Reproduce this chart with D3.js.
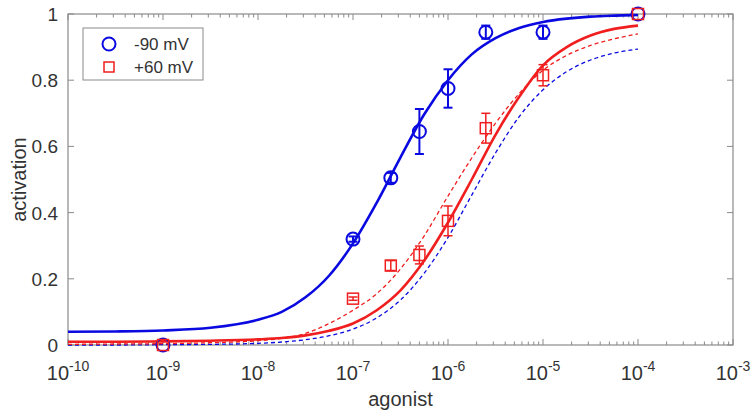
<!DOCTYPE html>
<html>
<head>
<meta charset="utf-8">
<script src="https://cdn.jsdelivr.net/npm/d3@7"></script>
<style>
	body { margin: 0; background: #fff; }
	text { font-family: "Liberation Sans", Arial, sans-serif; fill: #333; }
</style>
</head>
<body>
<div id="chart-area"><svg></svg></div>
<script>
const chartSize = { width: 753, height: 414 };
const margin = { left: 68, right: 20, top: 14, bottom: 69 };
const width = chartSize.width - margin.left - margin.right;
const height = chartSize.height - margin.top - margin.bottom;

// measured points
const doses = [1e-9, 1e-7, 2.5e-7, 5e-7, 1e-6, 2.5e-6, 1e-5, 1e-4];
const neg90Mean = [0, 0.32, 0.505, 0.645, 0.775, 0.945, 0.945, 1.0];
const neg90Err = [0, 0.008, 0.015, 0.068, 0.058, 0.02, 0.02, 0];
const pos60Mean = [0, 0.14, 0.24, 0.272, 0.375, 0.655, 0.815, 1.0];
const pos60Err = [0, 0.005, 0.015, 0.027, 0.045, 0.045, 0.032, 0];

// fitted curves, read at quarter / half decades
const fitExp = [-10, -9.5, -9, -8.5, -8, -7.75, -7.5, -7.25, -7, -6.75, -6.5, -6.25, -6, -5.75, -5.5, -5.25, -5, -4.75, -4.5, -4.25, -4];
const neg90Fit = [0.04, 0.041, 0.044, 0.052, 0.076, 0.1, 0.144, 0.21, 0.307, 0.43, 0.567, 0.697, 0.8, 0.878, 0.927, 0.958, 0.976, 0.986, 0.992, 0.995, 0.997];
const pos60Fit = [0.01, 0.01, 0.011, 0.013, 0.017, 0.021, 0.029, 0.043, 0.065, 0.105, 0.165, 0.255, 0.37, 0.5, 0.635, 0.75, 0.845, 0.9, 0.935, 0.955, 0.965];
const pos60Dash = [0.002, 0.003, 0.004, 0.007, 0.013, 0.02, 0.035, 0.065, 0.105, 0.155, 0.23, 0.33, 0.45, 0.565, 0.67, 0.76, 0.83, 0.875, 0.905, 0.925, 0.94];
const neg90Dash = [0, 0, 0.001, 0.002, 0.005, 0.009, 0.016, 0.028, 0.048, 0.082, 0.136, 0.217, 0.325, 0.453, 0.58, 0.69, 0.771, 0.826, 0.861, 0.882, 0.894];

const xTicks = [-10, -9, -8, -7, -6, -5, -4, -3];
const yTicks = [0, 0.2, 0.4, 0.6, 0.8, 1];
const legendLabels = ["-90 mV", "+60 mV"];

const blue = "#0a0ae0";
const red = "#f01e1e";
const axisColor = "#8a8a8a";

const svg = d3
	.select("#chart-area svg")
	.attr("width", chartSize.width)
	.attr("height", chartSize.height);

const g = svg.append("g").attr("transform", `translate(${margin.left},${margin.top})`);

const x = d3.scaleLog().domain([1e-10, 1e-3]).range([0, width]);
const y = d3.scaleLinear().domain([0, 1]).range([height, 0]);

// minor ticks for the log axis
const minor = [];
xTicks.slice(0, -1).forEach(e => {
	for (let m = 2; m < 10; m++) minor.push(m * Math.pow(10, e));
});
const major = xTicks.map(e => Math.pow(10, e));

const axes = g.append("g").attr("stroke", axisColor).attr("fill", "none");
axes.append("rect").attr("width", width).attr("height", height).attr("stroke-width", 1.2);

[[height, -1], [0, 1]].forEach(([y0, dir]) => {
	axes.selectAll(null)
		.data(major)
		.enter()
		.append("line")
		.attr("x1", d => x(d)).attr("x2", d => x(d))
		.attr("y1", y0).attr("y2", y0 + dir * 6);
	axes.selectAll(null)
		.data(minor)
		.enter()
		.append("line")
		.attr("x1", d => x(d)).attr("x2", d => x(d))
		.attr("y1", y0).attr("y2", y0 + dir * 3.5);
});
[[0, 1], [width, -1]].forEach(([x0, dir]) => {
	axes.selectAll(null)
		.data(yTicks)
		.enter()
		.append("line")
		.attr("x1", x0).attr("x2", x0 + dir * 6)
		.attr("y1", d => y(d)).attr("y2", d => y(d));
});

// tick labels
g.selectAll(".ylab")
	.data(yTicks)
	.enter()
	.append("text")
	.attr("x", -10)
	.attr("y", d => y(d) + 7)
	.attr("text-anchor", "end")
	.style("font-size", "19px")
	.text(d => d3.format("")(d));

const xl = g.selectAll(".xlab")
	.data(xTicks)
	.enter()
	.append("text")
	.attr("x", d => x(Math.pow(10, d)))
	.attr("y", height + 35)
	.attr("text-anchor", "middle")
	.style("font-size", "20px");
xl.append("tspan").text("10");
xl.append("tspan")
	.attr("dy", -9)
	.style("font-size", "14px")
	.text(d => `${d}`);

g.append("text")
	.attr("x", width / 2)
	.attr("y", height + 61)
	.attr("text-anchor", "middle")
	.style("font-size", "20px")
	.text("agonist");

g.append("text")
	.attr("transform", "rotate(-90)")
	.attr("x", -height / 2)
	.attr("y", -42)
	.attr("text-anchor", "middle")
	.style("font-size", "20px")
	.text("activation");

// fit curves
const line = d3
	.line()
	.x(d => x(Math.pow(10, d[0])))
	.y(d => y(d[1]))
	.curve(d3.curveMonotoneX);

const drawFit = (vals, color, w, dash) =>
	g.append("path")
		.attr("d", line(fitExp.map((e, i) => [e, vals[i]])))
		.attr("fill", "none")
		.attr("stroke", color)
		.attr("stroke-width", w)
		.attr("stroke-dasharray", dash);

drawFit(neg90Dash, blue, 1.3, "4,3");
drawFit(pos60Dash, red, 1.3, "4,3");
drawFit(neg90Fit, blue, 2.6, null);
drawFit(pos60Fit, red, 2.6, null);

// error bars + markers
const drawPoints = (means, errs, color, shape, sw) => {
	const pts = doses.map((d, i) => ({ d, m: means[i], e: errs[i] }));
	const eg = g.append("g").attr("stroke", color).attr("fill", "none").attr("stroke-width", sw);
	pts.filter(p => p.e > 0).forEach(p => {
		const cx = x(p.d);
		eg.append("line").attr("x1", cx).attr("x2", cx).attr("y1", y(p.m - p.e)).attr("y2", y(p.m + p.e));
		[p.m - p.e, p.m + p.e].forEach(v =>
			eg.append("line").attr("x1", cx - 4.5).attr("x2", cx + 4.5).attr("y1", y(v)).attr("y2", y(v))
		);
	});
	if (shape === "circle") {
		eg.selectAll(null)
			.data(pts)
			.enter()
			.append("circle")
			.attr("cx", p => x(p.d))
			.attr("cy", p => y(p.m))
			.attr("r", 6.5);
	} else {
		eg.selectAll(null)
			.data(pts)
			.enter()
			.append("rect")
			.attr("x", p => x(p.d) - 5.5)
			.attr("y", p => y(p.m) - 5.5)
			.attr("width", 11)
			.attr("height", 11);
	}
};

drawPoints(neg90Mean, neg90Err, blue, "circle", 2);
drawPoints(pos60Mean, pos60Err, red, "square", 1.5);

// legend
const lg = svg.append("g").attr("transform", "translate(83,28)");
lg.append("rect")
	.attr("width", 120)
	.attr("height", 52)
	.attr("fill", "#fff")
	.attr("stroke", axisColor)
	.attr("stroke-width", 1);
lg.append("circle")
	.attr("cx", 26).attr("cy", 16).attr("r", 6.5)
	.attr("fill", "none").attr("stroke", blue).attr("stroke-width", 2);
lg.append("rect")
	.attr("x", 21).attr("y", 34).attr("width", 10).attr("height", 10)
	.attr("fill", "none").attr("stroke", red).attr("stroke-width", 1.5);
lg.selectAll(".leg")
	.data(legendLabels)
	.enter()
	.append("text")
	.attr("x", 51)
	.attr("y", (d, i) => 22 + i * 23)
	.style("font-size", "17px")
	.text(d => d);
</script>
</body>
</html>
